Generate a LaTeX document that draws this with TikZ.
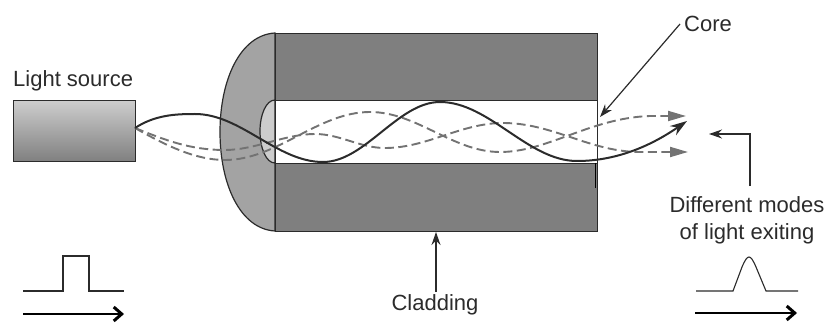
\documentclass[tikz,border=0pt]{standalone}
\usepackage{fontspec}
\setmainfont{Liberation Sans}
\usetikzlibrary{arrows.meta}
\definecolor{cladgray}{HTML}{7F7F7F}
\definecolor{capgray}{HTML}{A3A3A3}
\definecolor{inner}{HTML}{CDCDCD}
\definecolor{ink}{HTML}{2B2B2B}
\definecolor{dashgray}{HTML}{737373}
\tikzset{
  outline/.style={draw=ink,line width=1.2pt},
  labeltext/.style={font=\fontsize{22}{27}\selectfont,text=ink,inner sep=0pt,align=center},
  pointer/.style={draw=ink,line width=1.2pt,-{Stealth[length=13pt,width=9pt]}},
  solidray/.style={draw=ink,line width=2pt,-{Stealth[length=17pt,width=11pt]}},
  dashray/.style={draw=dashgray,line width=1.9pt,dash pattern=on 9pt off 4.5pt,-{Triangle[length=18pt,width=10pt]}},
  pulse/.style={draw=ink,line width=1.1pt},
  dirarrow/.style={draw=black,line width=2.8pt,-{Straight Barb[length=8pt,width=14pt,line width=3pt]}}
}
\begin{document}
\begin{tikzpicture}[x=1pt,y=-1pt]
\useasboundingbox (0,0) rectangle (829,323);
% fibre body
\draw[outline,fill=capgray] (275,33) .. controls (240,35) and (220,80) .. (220,132) .. controls (220,184) and (240,229) .. (275,231) -- cycle;
\draw[outline,fill=inner] (275,100) .. controls (266,100) and (260,115) .. (260,131) .. controls (260,148) and (266,163) .. (275,163) -- cycle;
\node[outline,fill=cladgray,minimum width=322pt,minimum height=67pt,inner sep=0pt,anchor=north west] (cladtop) at (275,33) {};
\node[outline,fill=cladgray,minimum width=322pt,minimum height=68pt,inner sep=0pt,anchor=north west] (cladbot) at (275,163) {};
\node[outline,fill=white,minimum width=322pt,minimum height=63pt,inner sep=0pt,anchor=north west] (core) at (275,100) {};
\draw[draw=black,line width=1.8pt] (595.5,163) -- (595.5,188);
% source
\node[outline,top color=inner,bottom color=black!50,minimum width=122pt,minimum height=61pt,inner sep=0pt,anchor=north west] (source) at (13,100) {};
\node[labeltext,anchor=west] (sourcelabel) at (13,81) {Light source};
\coordinate (emit) at (135,128);
% rays
\draw[dashray] (emit) .. controls (165,145) and (195,160) .. (225,160)
  .. controls (277,160) and (318,112) .. (370,112)
  .. controls (417,112) and (453,152) .. (500,152)
  .. controls (548,152) and (590,118) .. (650,116) -- (686,116);
\draw[dashray] (emit) .. controls (165,140) and (190,150) .. (225,150)
  .. controls (255,150) and (285,134) .. (315,134)
  .. controls (340,134) and (360,148) .. (385,148)
  .. controls (427,148) and (461,123) .. (503,123)
  .. controls (553,123) and (590,152) .. (640,152) -- (688,152);
\draw[solidray] (emit) .. controls (155,115) and (175,114) .. (195,114)
  .. controls (241,114) and (277,162) .. (323,162)
  .. controls (365,162) and (398,102) .. (440,102)
  .. controls (489,102) and (528,161) .. (577,161)
  .. controls (620,161) and (655,143) .. (687,121);
% labels and pointers
\node[labeltext,anchor=west] (corelabel) at (684,24) {Core};
\coordinate (coretip) at (600,117);
\draw[pointer] (corelabel.west) ++(-4,0) -- (coretip);
\node[labeltext] (modeslabel) at (747,220) {Different modes\\of light exiting};
\coordinate (modestip) at (709,134);
\draw[pointer] (750,186) |- (modestip);
\node[labeltext] (cladlabel) at (435,305) {Cladding};
\coordinate (cladtip) at (436,232);
\draw[pointer] (436,292) -- (cladtip);
% pulses
\draw[pulse] (23,291) -- (63,291) -- (63,256) -- (89,256) -- (89,291) -- (124,291);
\draw[pulse] (696,291) -- (733,291) -- (742,267) .. controls (745,260) and (747,257) .. (749,257) .. controls (751,257) and (753,260) .. (756,267) -- (766,291) -- (798,291);
\draw[dirarrow] (23,314) -- (124,314);
\draw[dirarrow] (695,313) -- (797,313);
\end{tikzpicture}
\end{document}
